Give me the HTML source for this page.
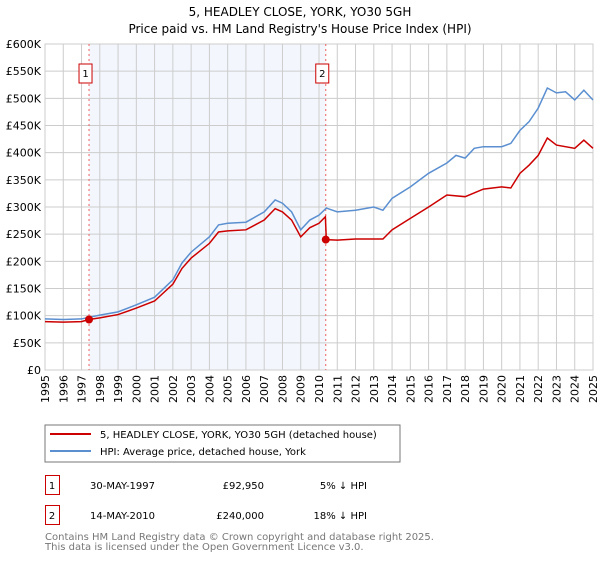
<!DOCTYPE html>
<html><head><meta charset="utf-8"><style>
body{margin:0;background:#fff;font-family:"Liberation Sans","DejaVu Sans",sans-serif;}
svg text{font-family:"DejaVu Sans","Liberation Sans",sans-serif;}
</style></head><body>
<svg id="c" width="600" height="560" xmlns="http://www.w3.org/2000/svg">
<text x="300" y="16" text-anchor="middle" font-size="12">5, HEADLEY CLOSE, YORK, YO30 5GH</text>
<text x="300" y="33" text-anchor="middle" font-size="12">Price paid vs. HM Land Registry's House Price Index (HPI)</text>
<g id="plot"></g>
<g>
<rect x="45" y="425" width="355" height="37" fill="#fff" stroke="#777"/>
<line x1="50" y1="434" x2="91" y2="434" stroke="#cc0000" stroke-width="2"/>
<text x="100" y="438" font-size="10">5, HEADLEY CLOSE, YORK, YO30 5GH (detached house)</text>
<line x1="50" y1="451" x2="91" y2="451" stroke="#5b8fd0" stroke-width="2"/>
<text x="100" y="455" font-size="10">HPI: Average price, detached house, York</text>
</g>
<g font-size="10">
<rect x="45.5" y="475.5" width="14" height="19" fill="#fff" stroke="#cc0000"/>
<text x="52" y="489" text-anchor="middle">1</text>
<text x="90" y="489">30-MAY-1997</text>
<text x="264" y="489" text-anchor="end">£92,950</text>
<text x="367" y="489" text-anchor="end">5% ↓ HPI</text>
<rect x="45.5" y="505.5" width="14" height="19" fill="#fff" stroke="#cc0000"/>
<text x="52" y="519" text-anchor="middle">2</text>
<text x="90" y="519">14-MAY-2010</text>
<text x="264" y="519" text-anchor="end">£240,000</text>
<text x="367" y="519" text-anchor="end">18% ↓ HPI</text>
</g>
<text x="45" y="540" font-size="10" fill="#777">Contains HM Land Registry data © Crown copyright and database right 2025.</text>
<text x="45" y="550" font-size="10" fill="#777">This data is licensed under the Open Government Licence v3.0.</text>
</svg>
<script>
const hpiYears=[1995,1996,1997,1997.4,1998,1999,2000,2001,2002,2002.5,2003,2004,2004.5,2005,2006,2007,2007.6,2008,2008.5,2009,2009.5,2010,2010.4,2011,2012,2013,2013.5,2014,2015,2016,2017,2017.5,2018,2018.5,2019,2020,2020.5,2021,2021.5,2022,2022.5,2023,2023.5,2024,2024.5,2025];
const hpiValues=[94,93,94,97,101,107,120,134,166,197,217,245,267,270,272,291,313,307,291,258,276,285,298,291,294,300,294,316,337,362,381,395,390,408,411,411,417,441,457,482,519,510,512,497,515,497];
const propYears=[1995,1996,1997,1997.4,1998,1999,2000,2001,2002,2002.5,2003,2004,2004.5,2005,2006,2007,2007.6,2008,2008.5,2009,2009.5,2010,2010.35,2010.4,2011,2012,2013,2013.5,2014,2015,2016,2017,2018,2019,2020,2020.5,2021,2021.5,2022,2022.5,2023,2024,2024.5,2025];
const propValues=[89,88,89,92.95,96,102,114,127,158,187,206,233,254,256,258,276,297,291,276,245,262,270,282,240,239,241,241,241,258,279,300,322,319,333,337,335,362,377,395,427,414,408,423,408];
const sales=[{year:1997.41,value:92.95,label:"1"},{year:2010.37,value:240,label:"2"}];
const yTicks=[0,50,100,150,200,250,300,350,400,450,500,550,600];
const yTickLabels=["£0","£50K","£100K","£150K","£200K","£250K","£300K","£350K","£400K","£450K","£500K","£550K","£600K"];
const xTicks=[1995,1996,1997,1998,1999,2000,2001,2002,2003,2004,2005,2006,2007,2008,2009,2010,2011,2012,2013,2014,2015,2016,2017,2018,2019,2020,2021,2022,2023,2024,2025];

const L=45,R=593,T=44,B=370;
const X=y=>L+(y-1995)/(30)*(R-L);
const Y=v=>B-v/600*(B-T);
const NS="http://www.w3.org/2000/svg";
const g=document.getElementById('plot');
function mk(t,a){const e=document.createElementNS(NS,t);for(const k in a)e.setAttribute(k,a[k]);g.appendChild(e);return e;}
const sh=mk('rect',{x:X(sales[0].year),y:T,width:X(sales[1].year)-X(sales[0].year),height:B-T,fill:'#eef3fc',opacity:0.7});


yTicks.forEach((v,i)=>{
 const l=mk('line',{x1:L,x2:R,y1:Y(v),y2:Y(v),stroke:'#ccc','stroke-width':1});
 
 
 const t=mk('text',{x:L-4,y:Y(v)+4,'text-anchor':'end','font-size':11});
 t.textContent=yTickLabels[i];
 
 
});
xTicks.forEach(yr=>{
 const l=mk('line',{x1:X(yr),x2:X(yr),y1:T,y2:B,stroke:'#ccc','stroke-width':1});
 
 
 const t=mk('text',{x:0,y:0,'text-anchor':'end','font-size':11,transform:`translate(${X(yr)+4},${B+5}) rotate(-90)`});
 t.textContent=yr;
 
 
});
mk('rect',{x:L,y:T,width:R-L,height:B-T,fill:'none',stroke:'#ccc'});
sales.forEach(s=>{
 const l=mk('line',{x1:X(s.year),x2:X(s.year),y1:T,y2:B,stroke:'#f06060','stroke-dasharray':'2,3'});
 
 
 const r=mk('rect',{x:X(s.year)-10,y:64,width:13,height:19,fill:'#fff',stroke:'#cc0000'});
 
 
 const t=mk('text',{x:X(s.year)-3.5,y:77,'text-anchor':'middle','font-size':10});
 t.textContent=s.label;
 
 
});
const hp=mk('polyline',{points:hpiYears.map((y,i)=>X(y)+','+Y(hpiValues[i])).join(' '),fill:'none',stroke:'#5b8fd0','stroke-width':1.5});


const pp=mk('polyline',{points:propYears.map((y,i)=>X(y)+','+Y(propValues[i])).join(' '),fill:'none',stroke:'#cc0000','stroke-width':1.5});


sales.forEach(s=>{
 const c=mk('circle',{cx:X(s.year),cy:Y(s.value),r:4,fill:'#cc0000'});
 
 
});
</script>
</body></html>
